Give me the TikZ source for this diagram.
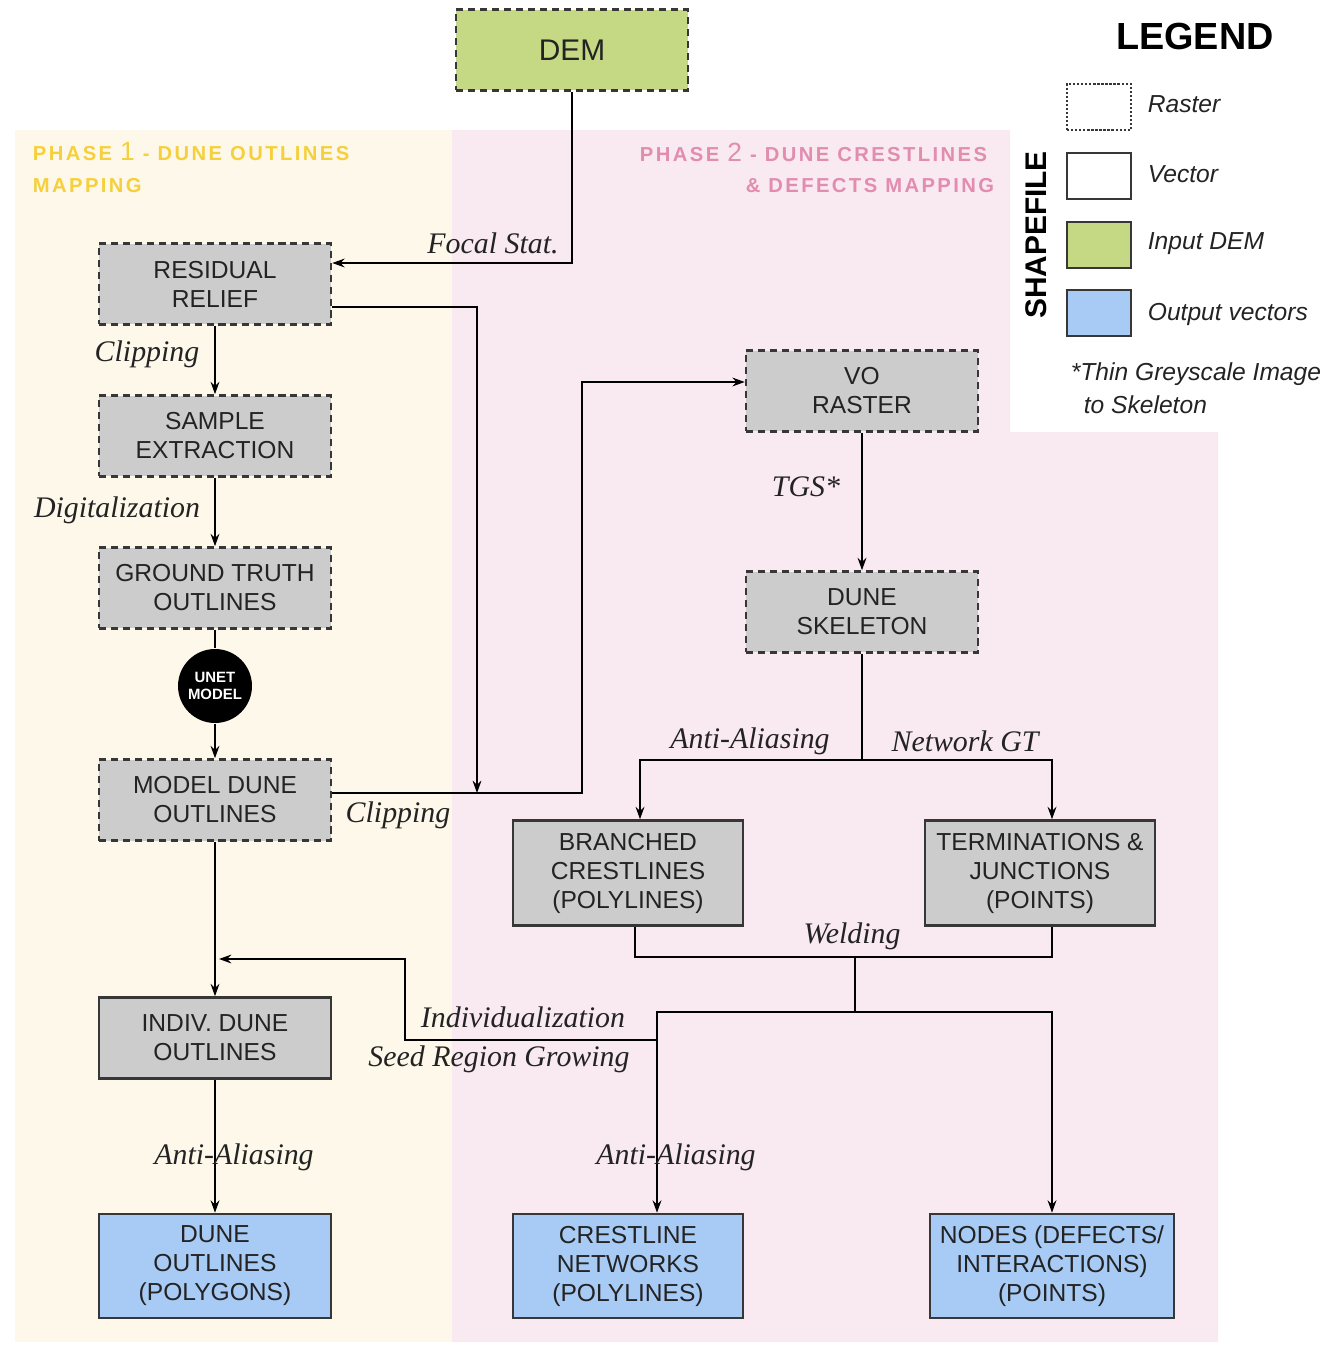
\documentclass[tikz,border=0pt]{standalone}
\usepackage{fontspec}
\setmainfont{Liberation Sans}
\newfontfamily\serifit{Liberation Serif}
\newfontfamily\phasefont[LetterSpace=12]{Liberation Sans}
\usetikzlibrary{arrows.meta}

\definecolor{demgreen}{RGB}{197,216,132}
\definecolor{boxgrey}{RGB}{204,204,204}
\definecolor{outblue}{RGB}{168,203,245}
\definecolor{boxline}{RGB}{55,55,55}
\definecolor{boxtext}{RGB}{35,35,35}
\definecolor{phaseone}{RGB}{253,248,233}
\definecolor{phasetwo}{RGB}{249,233,240}
\definecolor{phaseonetext}{RGB}{245,208,60}
\definecolor{phasetwotext}{RGB}{226,140,176}

\tikzset{
	box/.style={draw=boxline, line width=1.5pt, fill=boxgrey, text=boxtext, align=center,
		minimum width=4.64cm, minimum height=1.62cm, inner sep=0pt,
		font=\fontsize{14}{16.5}\selectfont},
	raster/.style={box, dash pattern=on 4pt off 2.8pt},
	outvec/.style={box, fill=outblue, minimum height=2.08cm},
	lbl/.style={text=boxtext, inner sep=0pt, font=\serifit\itshape\fontsize{17}{19}\selectfont},
	legtext/.style={anchor=west, text=boxtext, inner sep=0pt, font=\itshape\fontsize{14}{17}\selectfont},
	legbox/.style={draw=boxline, line width=1.3pt, minimum width=1.28cm, minimum height=0.92cm, inner sep=0pt},
	phaselbl/.style={inner sep=0pt, font=\phasefont\bfseries\fontsize{11.5}{13}\selectfont},
}

\begin{document}
\begin{tikzpicture}[x=0.02cm, y=-0.02cm, line width=1pt, >={Stealth[length=7pt,width=5pt]}]
	\useasboundingbox (0,0) rectangle (1344,1345);

	% phase backgrounds
	\fill [phaseone] (15,130) rectangle (452,1342);
	\fill [phasetwo] (452,130) -- (1010,130) -- (1010,432) -- (1218,432)
	   -- (1218,1342) -- (452,1342) -- cycle;

	\node (ph1a) [phaselbl, anchor=west, text=phaseonetext] at (32,152)
	   {PHASE {\mdseries\fontsize{15}{15}\selectfont 1} - DUNE OUTLINES};
	\node (ph1b) [phaselbl, anchor=west, text=phaseonetext] at (32,186) {MAPPING};
	\node (ph2a) [phaselbl, anchor=east, text=phasetwotext] at (988,152)
	   {PHASE {\mdseries\fontsize{15}{15}\selectfont 2} - DUNE CRESTLINES};
	\node (ph2b) [phaselbl, anchor=east, text=phasetwotext] at (995,186) {\& DEFECTS MAPPING};

	% phase 1
	\node (dem) [raster, fill=demgreen, font=\fontsize{17}{19}\selectfont] at (572,50) {DEM};
	\node (resid) [raster] at (215,284) {RESIDUAL\\RELIEF};
	\node (sample) [raster] at (215,436) {SAMPLE\\EXTRACTION};
	\node (gtruth) [raster] at (215,588) {GROUND TRUTH\\OUTLINES};
	\node (unet) [circle, fill=black, minimum size=1.48cm, inner sep=0pt, text=white, align=center,
	   font=\bfseries\fontsize{8.5}{10}\selectfont] at (215,686) {UNET\\MODEL};
	\node (mdune) [raster] at (215,800) {MODEL DUNE\\OUTLINES};
	\node (indiv) [box] at (215,1038) {INDIV. DUNE\\OUTLINES};
	\node (outl) [outvec] at (215,1266) {DUNE\\OUTLINES\\(POLYGONS)};

	% phase 2
	\node (vo) [raster] at (862,391) {VO\\RASTER};
	\node (skel) [raster] at (862,612) {DUNE\\SKELETON};
	\node (branch) [box, minimum width=4.6cm, minimum height=2.1cm] at (628,873)
	   {BRANCHED\\CRESTLINES\\(POLYLINES)};
	\node (term) [box, minimum width=4.6cm, minimum height=2.1cm] at (1040,873)
	   {TERMINATIONS \&\\JUNCTIONS\\(POINTS)};
	\node (crest) [outvec, minimum width=4.6cm] at (628,1266) {CRESTLINE\\NETWORKS\\(POLYLINES)};
	\node (defects) [outvec, minimum width=4.88cm] at (1052,1266)
	   {NODES (DEFECTS/\\INTERACTIONS)\\(POINTS)};

	\coordinate (clipjoin) at (477,793);
	\coordinate (clipturn) at (582,793);
	\coordinate (split) at (862,760);
	\coordinate (weld) at (855,957);
	\coordinate (fork) at (855,1012);
	\coordinate (indj) at (657,1040);
	\coordinate (indturn) at (405,1040);
	\coordinate (indtip) at (219,959);

	% connectors
	\draw [->] (dem.south) |- ([yshift=0.42cm]resid.east);
	\draw [->] ([yshift=-0.46cm]resid.east) -| (clipjoin);
	\draw [->] (resid) -- (sample);
	\draw [->] (sample) -- (gtruth);
	\draw (gtruth) -- (unet);
	\draw [->] (unet) -- (mdune);
	\draw [->] (mdune.east |- clipjoin) -- (clipturn) |- ([yshift=0.18cm]vo.west);
	\draw [->] (mdune) -- (indiv);
	\draw [->] (indiv) -- (outl);

	\draw [->] (vo) -- (skel);
	\draw (skel) -- (split);
	\draw [->] (split) -| ([xshift=0.24cm]branch.north);
	\draw [->] (split) -| ([xshift=0.24cm]term.north);
	\draw ([xshift=0.14cm]branch.south) |- (weld) -| ([xshift=0.24cm]term.south);
	\draw (weld) -- (fork);
	\draw [->] (fork) -| ([xshift=0.58cm]crest.north);
	\draw [->] (fork) -| (defects.north);
	\draw [->] (indj) -- (indturn) |- (indtip);

	% labels
	\node (lfocal) [lbl] at (493,243) {Focal Stat.};
	\node (lclip) [lbl] at (147,354) {Clipping};
	\node (ldigit) [lbl] at (117,510) {Digitalization};
	\node (lclipb) [lbl] at (398,815) {Clipping};
	\node (ltgs) [lbl] at (806,487) {TGS*};
	\node (laliasa) [lbl] at (750,741) {Anti-Aliasing};
	\node (lnetgt) [lbl] at (965,741) {Network GT};
	\node (lweld) [lbl] at (852,936) {Welding};
	\node (lindiv) [lbl] at (523,1017) {Individualization};
	\node (lseed) [lbl] at (499,1059) {Seed Region Growing};
	\node (laliasb) [lbl] at (234,1157) {Anti-Aliasing};
	\node (laliasc) [lbl] at (676,1157) {Anti-Aliasing};

	% legend
	\node (legend) [font=\bfseries\fontsize{21.5}{23}\selectfont, text=black] at (1195,36) {LEGEND};
	\node (shapefile) [rotate=90, font=\bfseries\fontsize{17}{19}\selectfont, text=black] at (1036,235) {SHAPEFILE};
	\node (legraster) [legbox, densely dotted, fill=white] at (1099,107) {};
	\node (legvector) [legbox, fill=white] at (1099,176) {};
	\node (legdem) [legbox, fill=demgreen] at (1099,245) {};
	\node (legout) [legbox, fill=outblue] at (1099,313) {};
	\node (lraster) [legtext] at (1147,104) {Raster};
	\node (lvector) [legtext] at (1147,174) {Vector};
	\node (ldem) [legtext] at (1147,244) {Input DEM};
	\node (lout) [legtext] at (1147,314) {Output vectors};
	\node (lthin) [legtext] at (1070,374) {*Thin Greyscale Image};
	\node (lskel) [legtext] at (1083,405) {to Skeleton};
\end{tikzpicture}
\end{document}
